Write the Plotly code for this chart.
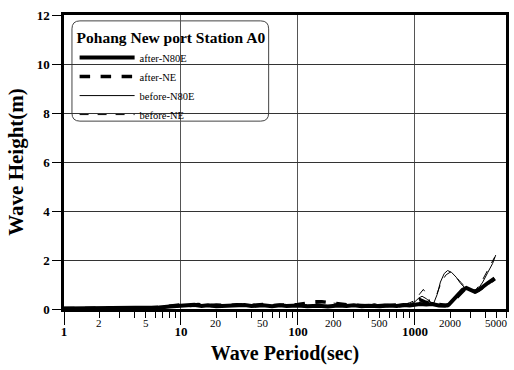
import math
import plotly.graph_objects as go

# ---------------- data ----------------
after_n80e_T = [1, 2, 3, 5, 6.5, 8, 9, 10, 11, 13, 15, 17, 20, 25, 30, 35, 40, 50, 60, 70, 80,
                100, 120, 150, 180, 220, 260, 300, 350, 400, 500, 600, 700, 800, 900, 1000,
                1100, 1250, 1400, 1600, 1800, 1950, 2150, 2350, 2550, 2750, 3000, 3250, 3500,
                3800, 4200, 4800]
after_n80e_H = [0.02, 0.02, 0.03, 0.04, 0.06, 0.1, 0.12, 0.15, 0.13, 0.17, 0.12, 0.15, 0.11, 0.13,
                0.12, 0.16, 0.12, 0.15, 0.11, 0.15, 0.12, 0.14, 0.11, 0.13, 0.1, 0.14, 0.12,
                0.15, 0.11, 0.13, 0.11, 0.14, 0.12, 0.16, 0.14, 0.18, 0.2, 0.18, 0.2, 0.14,
                0.13, 0.18, 0.42, 0.6, 0.78, 0.86, 0.78, 0.7, 0.77, 0.92, 1.06, 1.25]

after_ne_T = [1, 2, 3, 5, 6.5, 8, 9, 10, 12, 14, 17, 20, 25, 30, 40, 50, 60, 80, 100, 120, 140,
              160, 190, 230, 280, 350, 450, 550, 700, 850, 1000, 1100, 1200, 1350, 1500, 1700,
              1900, 2100, 2400, 2700, 3000, 3300, 3700, 4200, 4800]
after_ne_H = [0.02, 0.02, 0.03, 0.04, 0.07, 0.12, 0.15, 0.17, 0.14, 0.18, 0.14, 0.16, 0.14, 0.17,
              0.15, 0.18, 0.14, 0.16, 0.18, 0.24, 0.3, 0.3, 0.25, 0.2, 0.16, 0.14, 0.12, 0.15,
              0.13, 0.16, 0.3, 0.38, 0.3, 0.22, 0.2, 0.15, 0.14, 0.3, 0.58, 0.84, 0.77, 0.7,
              0.85, 1.04, 1.23]

before_n80e_T = [1, 2, 5, 8, 10, 20, 50, 100, 200, 300, 500, 700, 900, 1000, 1080, 1150, 1250,
                 1350, 1450, 1550, 1650, 1780, 1900, 2050, 2250, 2450, 2650, 2900, 3200, 3500,
                 3800, 4200, 4600, 4900]
before_n80e_H = [0.01, 0.02, 0.03, 0.08, 0.1, 0.1, 0.12, 0.1, 0.12, 0.12, 0.14, 0.16, 0.2, 0.3,
                 0.45, 0.52, 0.42, 0.28, 0.25, 0.6, 1.1, 1.45, 1.57, 1.5, 1.3, 1.05, 0.88, 0.8,
                 0.74, 0.85, 1.1, 1.5, 1.85, 2.2]

before_ne_T = [1, 2, 5, 8, 10, 20, 50, 100, 130, 170, 220, 300, 400, 450, 500, 600, 700, 850,
               1000, 1100, 1180, 1260, 1350, 1450, 1550, 1700, 1850, 2000, 2200, 2450, 2700,
               3000, 3300, 3600, 4000, 4400, 4800]
before_ne_H = [0.01, 0.02, 0.03, 0.08, 0.1, 0.1, 0.12, 0.12, 0.2, 0.28, 0.22, 0.15, 0.14, 0.22,
               0.15, 0.18, 0.22, 0.2, 0.35, 0.62, 0.8, 0.6, 0.28, 0.2, 0.65, 1.15, 1.4, 1.5,
               1.35, 1.1, 0.9, 0.76, 0.78, 1.0, 1.4, 1.8, 2.12]

major_ticks = [1, 10, 100, 1000]
minor_labels = [2, 5, 20, 50, 200, 500, 2000, 5000]
minor_ticks = [m * d for d in [1, 10, 100, 1000] for m in range(2, 10) if m * d <= 6000]
y_ticks = [0, 2, 4, 6, 8, 10, 12]

SERIF = "Liberation Serif, Times New Roman, serif"

fig = go.Figure()
fig.add_trace(go.Scatter(x=after_n80e_T, y=after_n80e_H, mode="lines", name="after-N80E",
                         line=dict(color="black", width=4)))
fig.add_trace(go.Scatter(x=after_ne_T, y=after_ne_H, mode="lines", name="after-NE",
                         line=dict(color="black", width=3.5, dash="dash")))
fig.add_trace(go.Scatter(x=before_n80e_T, y=before_n80e_H, mode="lines", name="before-N80E",
                         line=dict(color="black", width=1)))
fig.add_trace(go.Scatter(x=before_ne_T, y=before_ne_H, mode="lines", name="before-NE",
                         line=dict(color="black", width=1, dash="dash")))

annotations = []
for v in minor_labels:
    annotations.append(dict(x=math.log10(v), y=-0.048, xref="x", yref="paper", text=str(v),
                            showarrow=False, yanchor="middle", xanchor="center",
                            font=dict(family=SERIF, size=11, color="black")))

# rounded legend box
x0, x1, y0, y1 = 0.018, 0.463, 0.639, 0.980
rx, ry = 8 / 445, 8 / 294
box = (f"M {x0+rx},{y1} L {x1-rx},{y1} Q {x1},{y1} {x1},{y1-ry} L {x1},{y0+ry} "
       f"Q {x1},{y0} {x1-rx},{y0} L {x0+rx},{y0} Q {x0},{y0} {x0},{y0+ry} L {x0},{y1-ry} "
       f"Q {x0},{y1} {x0+rx},{y1} Z")

fig.update_layout(
    width=514, height=370,
    margin=dict(l=64, r=5, t=15, b=61),
    paper_bgcolor="white", plot_bgcolor="white",
    font=dict(family=SERIF, color="black"),
    showlegend=True,
    legend=dict(
        x=0.024, y=0.973, xanchor="left", yanchor="top",
        bgcolor="rgba(0,0,0,0)", borderwidth=0,
        title=dict(text="<b>Pohang New port Station A0</b>",
                   font=dict(family=SERIF, size=15.5, color="black")),
        font=dict(family=SERIF, size=10.5, color="black"),
        itemwidth=55, tracegroupgap=0,
    ),
    shapes=[dict(type="path", path=box, xref="paper", yref="paper",
                 line=dict(color="#444", width=1), fillcolor="white", layer="below")],
    annotations=annotations,
)

fig.update_xaxes(
    type="log", range=[0, math.log10(6000)],
    tickvals=major_ticks, ticktext=[f"<b>{v}</b>" for v in major_ticks],
    tickfont=dict(family=SERIF, size=13, color="black"),
    ticks="outside", ticklen=13, tickwidth=1, tickcolor="black",
    ticklabelstandoff=-4,
    minor=dict(tickvals=minor_ticks, ticks="outside", ticklen=6, tickwidth=1,
               tickcolor="black", showgrid=False),
    showgrid=True, gridcolor="#555", gridwidth=1,
    showline=True, linecolor="black", linewidth=2.5, mirror=True,
    title=dict(text="<b>Wave Period(sec)</b>", font=dict(family=SERIF, size=20), standoff=8),
    zeroline=False,
)
fig.update_yaxes(
    range=[0, 12], tickvals=y_ticks, ticktext=[f"<b>{v}</b>" for v in y_ticks],
    tickfont=dict(family=SERIF, size=13, color="black"),
    ticks="outside", ticklen=9, tickwidth=1, tickcolor="black",
    showgrid=True, gridcolor="#333", gridwidth=1,
    showline=True, linecolor="black", linewidth=2.5, mirror=True,
    title=dict(text="<b>Wave Height(m)</b>", font=dict(family=SERIF, size=21), standoff=8),
    zeroline=False,
)

fig.write_html("out.html")
